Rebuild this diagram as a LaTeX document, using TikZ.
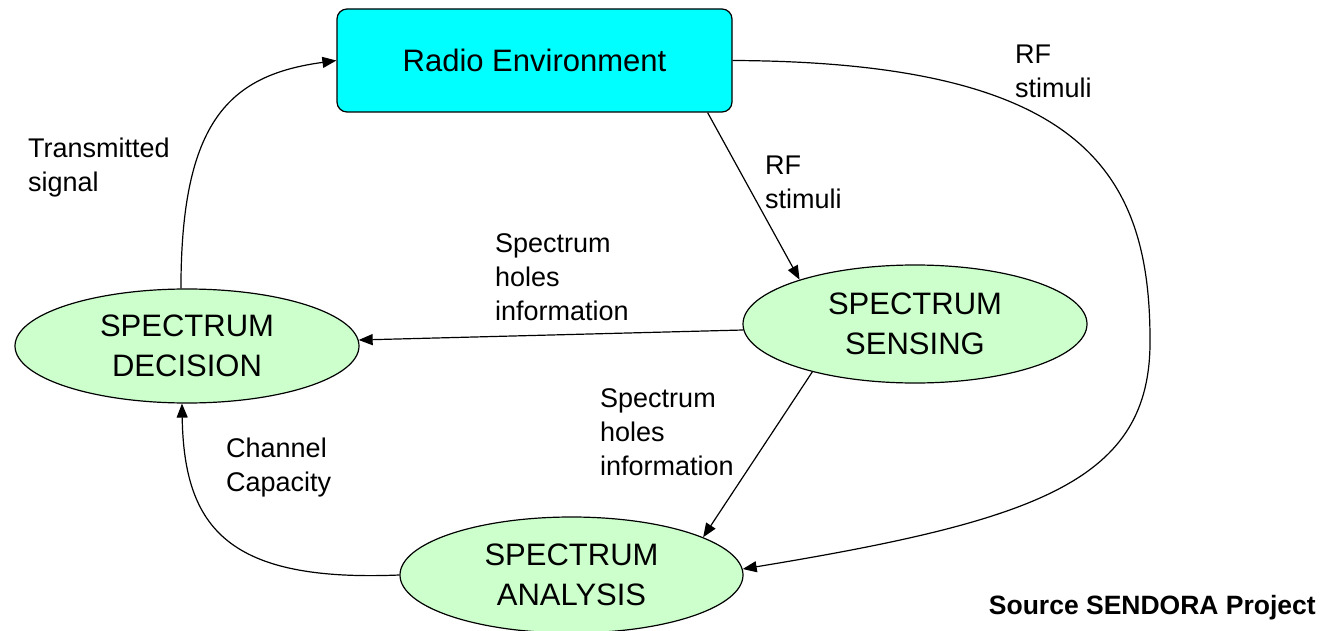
\documentclass[tikz,border=0pt]{standalone}
\usepackage{fontspec}
\setmainfont{Liberation Sans}
\usetikzlibrary{arrows.meta,shapes.geometric}
\definecolor{envcyan}{HTML}{00FFFF}
\definecolor{ellgreen}{HTML}{CCFFCC}
\tikzset{
  envbox/.style={draw=black, line width=1.2pt, fill=envcyan, rounded corners=10pt,
    minimum width=395pt, minimum height=103pt, inner sep=0pt,
    font=\fontsize{31}{40}\selectfont},
  procell/.style={ellipse, draw=black, line width=1.2pt, fill=ellgreen,
    minimum width=344pt, minimum height=116pt, inner sep=0pt, align=center,
    font=\fontsize{31}{40}\selectfont},
  lbl/.style={anchor=north west, inner sep=0pt, align=left,
    font=\fontsize{27}{34}\selectfont},
  conn/.style={draw=black, line width=1.2pt, -{Triangle[length=14pt,width=11pt]}}
}
\begin{document}
\begin{tikzpicture}[x=1pt,y=-1pt]
\useasboundingbox (0,0) rectangle (1324,631);

\node[envbox] (re) at (534.5,60.5) {Radio Environment};
\node[procell, minimum height=118pt] (sn) at (915,324) {SPECTRUM\\SENSING};
\node[procell, minimum height=114pt] (dec) at (187,346) {SPECTRUM\\DECISION};
\node[procell, minimum height=116pt, minimum width=343pt] (an) at (571.5,575) {SPECTRUM\\ANALYSIS};

% labels
\node[lbl] (l1) at (28,138) {Transmitted\\signal};
\node[lbl] (l2) at (1015,45) {RF\\stimuli};
\node[lbl] (l3) at (765,156) {RF\\stimuli};
\node[lbl] (l4) at (495,233) {Spectrum\\holes\\information};
\node[lbl] (l5) at (600,388) {Spectrum\\holes\\information};
\node[lbl] (l6) at (226,438) {Channel\\Capacity};
\node[anchor=base east, inner sep=0pt, font=\fontsize{26.5}{32}\selectfont\bfseries] (src) at (1316,614) {Source SENDORA Project};

% connectors
\coordinate (reb) at ([xshift=-25pt]re.south east);
\draw[conn] (reb) -- (sn.159);
\draw[conn] (sn.182) -- (dec.2);
\draw[conn] (sn.205) -- (an.16);
\coordinate (rfmid) at (1150,340);
\draw[conn] (re.east) .. controls (1080,62) and (1150,170) .. (rfmid)
  .. controls (1151,480) and (1040,520) .. (an.2);
\draw[conn] (an.west) .. controls (230,582) and (184,530) .. (dec.265);
\draw[conn] (dec.96) .. controls (181,120) and (230,75) .. (re.west);
\end{tikzpicture}
\end{document}
